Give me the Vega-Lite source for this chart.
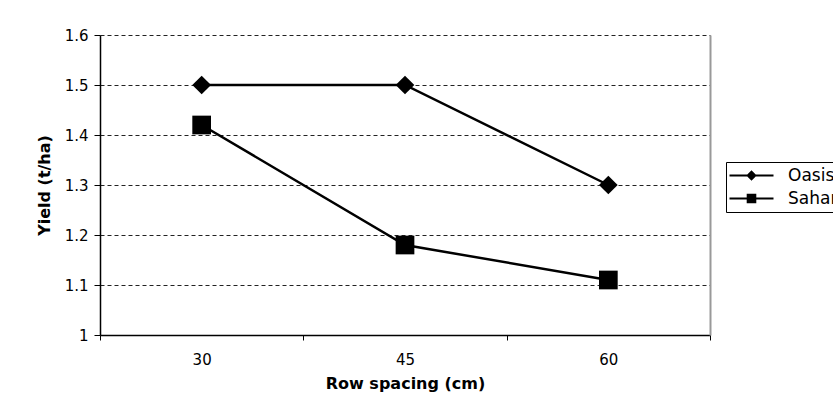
{
  "$schema": "https://vega.github.io/schema/vega-lite/v6.json",
  "width": 610,
  "height": 300,
  "autosize": {"type": "none"},
  "padding": {"left": 100, "top": 35, "right": 123, "bottom": 68},
  "background": "white",
  "config": {
    "font": "DejaVu Sans",
    "view": {"stroke": null},
    "axis": {"labelFont": "DejaVu Sans", "titleFont": "DejaVu Sans", "labelColor": "black", "titleColor": "black"}
  },
  "data": {
    "values": [
      {"Spacing": "30", "Variety": "Oasis", "Yield": 1.5},
      {"Spacing": "45", "Variety": "Oasis", "Yield": 1.5},
      {"Spacing": "60", "Variety": "Oasis", "Yield": 1.3},
      {"Spacing": "30", "Variety": "Sahara", "Yield": 1.42},
      {"Spacing": "45", "Variety": "Sahara", "Yield": 1.18},
      {"Spacing": "60", "Variety": "Sahara", "Yield": 1.11}
    ]
  },
  "encoding": {
    "x": {
      "field": "Spacing",
      "type": "ordinal",
      "sort": ["30", "45", "60"],
      "scale": {"paddingInner": 0, "paddingOuter": 0},
      "axis": {
        "title": "Row spacing (cm)",
        "titleFontSize": 16,
        "titleFontWeight": "bold",
        "titlePadding": 8,
        "labelFontSize": 15,
        "labelAngle": 0,
        "labelPadding": 12,
        "tickBand": "extent",
        "tickSize": 5,
        "tickColor": "black",
        "domainColor": "black",
        "domainWidth": 1.5,
        "grid": false
      }
    }
  },
  "layer": [
    {
      "mark": {"type": "line", "color": "black", "strokeWidth": 2.5},
      "encoding": {
        "y": {
          "field": "Yield",
          "type": "quantitative",
          "scale": {"domain": [1, 1.6], "nice": false, "zero": false},
          "axis": {
            "orient": "left",
            "title": "Yield (t/ha)",
            "titleFontSize": 16,
            "titleFontWeight": "bold",
            "titlePadding": 12,
            "labelFontSize": 15,
            "labelPadding": 6,
            "format": ".1~f",
            "values": [1, 1.1, 1.2, 1.3, 1.4, 1.5, 1.6],
            "tickSize": 6,
            "tickColor": "black",
            "domainColor": "black",
            "domainWidth": 1.5,
            "grid": true,
            "gridColor": "#222",
            "gridDash": [4, 3],
            "gridWidth": 1
          }
        },
        "detail": {"field": "Variety", "type": "nominal"}
      }
    },
    {
      "mark": {"type": "point", "filled": true, "color": "black", "size": 350, "opacity": 1},
      "encoding": {
        "y": {
          "field": "Yield",
          "type": "quantitative",
          "axis": {
            "orient": "right",
            "title": null,
            "labels": false,
            "ticks": false,
            "grid": false,
            "domainColor": "#999",
            "domainWidth": 2
          }
        },
        "shape": {
          "field": "Variety",
          "type": "nominal",
          "scale": {"range": ["diamond", "square"]},
          "legend": null
        }
      }
    },
    {
      "mark": {"type": "point", "filled": true, "color": "black", "size": 256, "opacity": 1, "fillOpacity": 0, "strokeOpacity": 0},
      "encoding": {
        "y": {"field": "Yield", "type": "quantitative", "axis": null},
        "shape": {
          "field": "Variety",
          "type": "nominal",
          "scale": {"range": ["M-2.75,-0.13L2.75,-0.13L2.75,0.13L-2.75,0.13ZM0,-0.65L0.65,0L0,0.65L-0.65,0Z", "M-2.75,-0.13L2.75,-0.13L2.75,0.13L-2.75,0.13ZM-0.6,-0.6L0.6,-0.6L0.6,0.6L-0.6,0.6Z"]},
          "legend": {
            "title": null,
            "orient": "none",
            "legendX": 626,
            "legendY": 127,
            "strokeColor": "black",
            "fillColor": "white",
            "padding": 5,
            "rowPadding": 5,
            "symbolSize": 256,
            "symbolOffset": 12,
            "symbolStrokeWidth": 0,
            "symbolFillColor": "black",
            "labelOffset": 28,
            "labelFontSize": 17,
            "labelFont": "DejaVu Sans",
            "labelColor": "black",
            "encode": {
              "symbols": {
                "fillOpacity": {"value": 1},
                "fill": {"value": "black"}
              }
            }
          }
        }
      }
    }
  ],
  "resolve": {"axis": {"y": "independent"}, "scale": {"shape": "independent"}}
}
